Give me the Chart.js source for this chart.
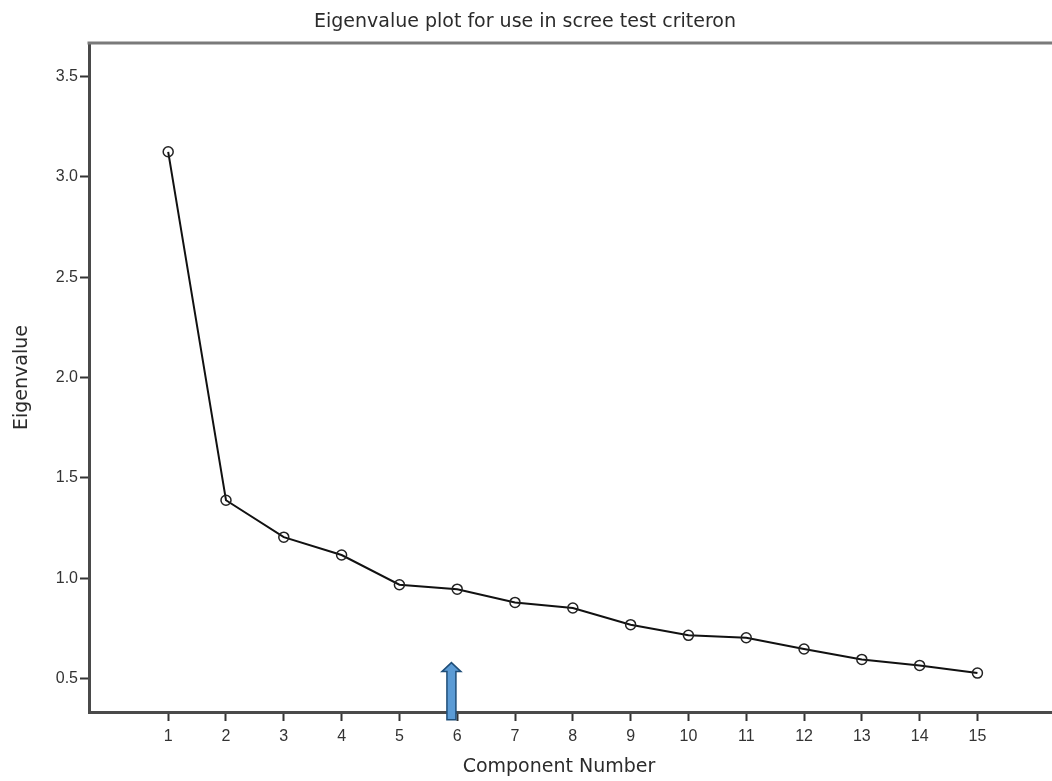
<!DOCTYPE html>
<html lang="en">
<head>
    <meta charset="UTF-8">
    <title>Eigenvalue plot for use in scree test criteron</title>
    <script src="https://cdn.jsdelivr.net/npm/chart.js@4.4.1/dist/chart.umd.min.js"></script>
    <style>
        html, body {
            margin: 0;
            padding: 0;
            background: #ffffff;
            overflow: hidden;
        }
        .chart-box {
            width: 1052px;
            height: 781px;
        }
    </style>
</head>
<body>
    <div class="chart-box">
        <canvas id="screeChart" width="1052" height="781"></canvas>
    </div>

    <script>
        // Scree plot values
        const componentNumbers = [1, 2, 3, 4, 5, 6, 7, 8, 9, 10, 11, 12, 13, 14, 15];
        const eigenvalues = [3.125, 1.389, 1.205, 1.116, 0.968, 0.946, 0.880, 0.852, 0.769, 0.716, 0.704, 0.648, 0.596, 0.566, 0.528];
        const eigenTicks = [0.5, 1.0, 1.5, 2.0, 2.5, 3.0, 3.5];

        // Axis ranges
        const xRange = [-0.37, 16.29];
        const yRange = [0.334, 3.667];

        // Marker arrow under component 6 (x position, tip value, tail value)
        const arrowMark = [5.9, 0.58, 0.296];

        const titleFont = '19px "DejaVu Sans", sans-serif';
        const tickFont = { family: '"Liberation Sans", Arial, sans-serif', size: 16 };

        const screeDecor = {
            id: 'screeDecor',
            afterDatasetsDraw(chart) {
                const ctx = chart.ctx;
                const area = chart.chartArea;
                const xs = chart.scales.x;
                const ys = chart.scales.y;

                // top frame line
                ctx.save();
                ctx.strokeStyle = '#7a7a7a';
                ctx.lineWidth = 3;
                ctx.beginPath();
                ctx.moveTo(area.left - 1.5, area.top);
                ctx.lineTo(area.right, area.top);
                ctx.stroke();

                // blue arrow pointing up at the elbow
                const cx = xs.getPixelForValue(arrowMark[0]);
                const tipY = ys.getPixelForValue(arrowMark[1]);
                const tailY = ys.getPixelForValue(arrowMark[2]);
                const shaft = 4.5;
                const head = 9.5;
                const headH = 9;
                ctx.beginPath();
                ctx.moveTo(cx, tipY);
                ctx.lineTo(cx + head, tipY + headH);
                ctx.lineTo(cx + shaft, tipY + headH);
                ctx.lineTo(cx + shaft, tailY);
                ctx.lineTo(cx - shaft, tailY);
                ctx.lineTo(cx - shaft, tipY + headH);
                ctx.lineTo(cx - head, tipY + headH);
                ctx.closePath();
                ctx.fillStyle = '#5b9bd5';
                ctx.fill();
                ctx.strokeStyle = '#1f4e79';
                ctx.lineWidth = 1.5;
                ctx.stroke();
                ctx.restore();
            },
            afterDraw(chart) {
                const ctx = chart.ctx;
                ctx.save();
                ctx.fillStyle = '#2b2b2b';
                ctx.font = titleFont;
                ctx.textAlign = 'center';
                ctx.textBaseline = 'middle';
                ctx.fillText('Eigenvalue plot for use in scree test criteron', 525, 22);
                ctx.fillText('Component Number', 559, 767);
                ctx.restore();
            }
        };

        const ctx = document.getElementById('screeChart').getContext('2d');

        new Chart(ctx, {
            type: 'line',
            data: {
                datasets: [{
                    label: 'Eigenvalue',
                    data: componentNumbers.map((c, i) => ({ x: c, y: eigenvalues[i] })),
                    borderColor: '#111111',
                    borderWidth: 2,
                    tension: 0,
                    fill: false,
                    pointStyle: 'circle',
                    pointRadius: 5,
                    pointBorderWidth: 1.5,
                    pointBorderColor: '#222222',
                    pointBackgroundColor: 'rgba(255,255,255,0)'
                }]
            },
            options: {
                responsive: false,
                animation: false,
                layout: {
                    autoPadding: false,
                    padding: { top: 43, right: 0, bottom: 0, left: 0 }
                },
                plugins: {
                    legend: { display: false },
                    tooltip: { enabled: false },
                    title: { display: false }
                },
                scales: {
                    x: {
                        type: 'linear',
                        min: xRange[0],
                        max: xRange[1],
                        afterBuildTicks: (scale) => {
                            scale.ticks = componentNumbers.map(v => ({ value: v }));
                        },
                        afterFit: (scale) => { scale.height = 69; },
                        border: { display: true, color: '#4a4a4a', width: 3 },
                        grid: {
                            display: true,
                            drawOnChartArea: false,
                            drawTicks: true,
                            tickLength: 9,
                            tickWidth: 2,
                            tickColor: '#333333'
                        },
                        ticks: {
                            autoSkip: false,
                            maxRotation: 0,
                            padding: 6,
                            color: '#333333',
                            font: tickFont,
                            callback: (v) => String(v)
                        }
                    },
                    y: {
                        type: 'linear',
                        min: yRange[0],
                        max: yRange[1],
                        afterBuildTicks: (scale) => {
                            scale.ticks = eigenTicks.map(v => ({ value: v }));
                        },
                        afterFit: (scale) => { scale.width = 89; },
                        border: { display: true, color: '#4a4a4a', width: 3 },
                        grid: {
                            display: true,
                            drawOnChartArea: false,
                            drawTicks: true,
                            tickLength: 9,
                            tickWidth: 2,
                            tickColor: '#333333'
                        },
                        ticks: {
                            padding: 2,
                            color: '#333333',
                            font: tickFont,
                            callback: (v) => Number(v).toFixed(1)
                        },
                        title: {
                            display: true,
                            text: 'Eigenvalue',
                            color: '#2b2b2b',
                            font: { family: '"DejaVu Sans", sans-serif', size: 19 },
                            padding: { top: 11, bottom: 0 }
                        }
                    }
                }
            },
            plugins: [screeDecor]
        });
    </script>
</body>
</html>
